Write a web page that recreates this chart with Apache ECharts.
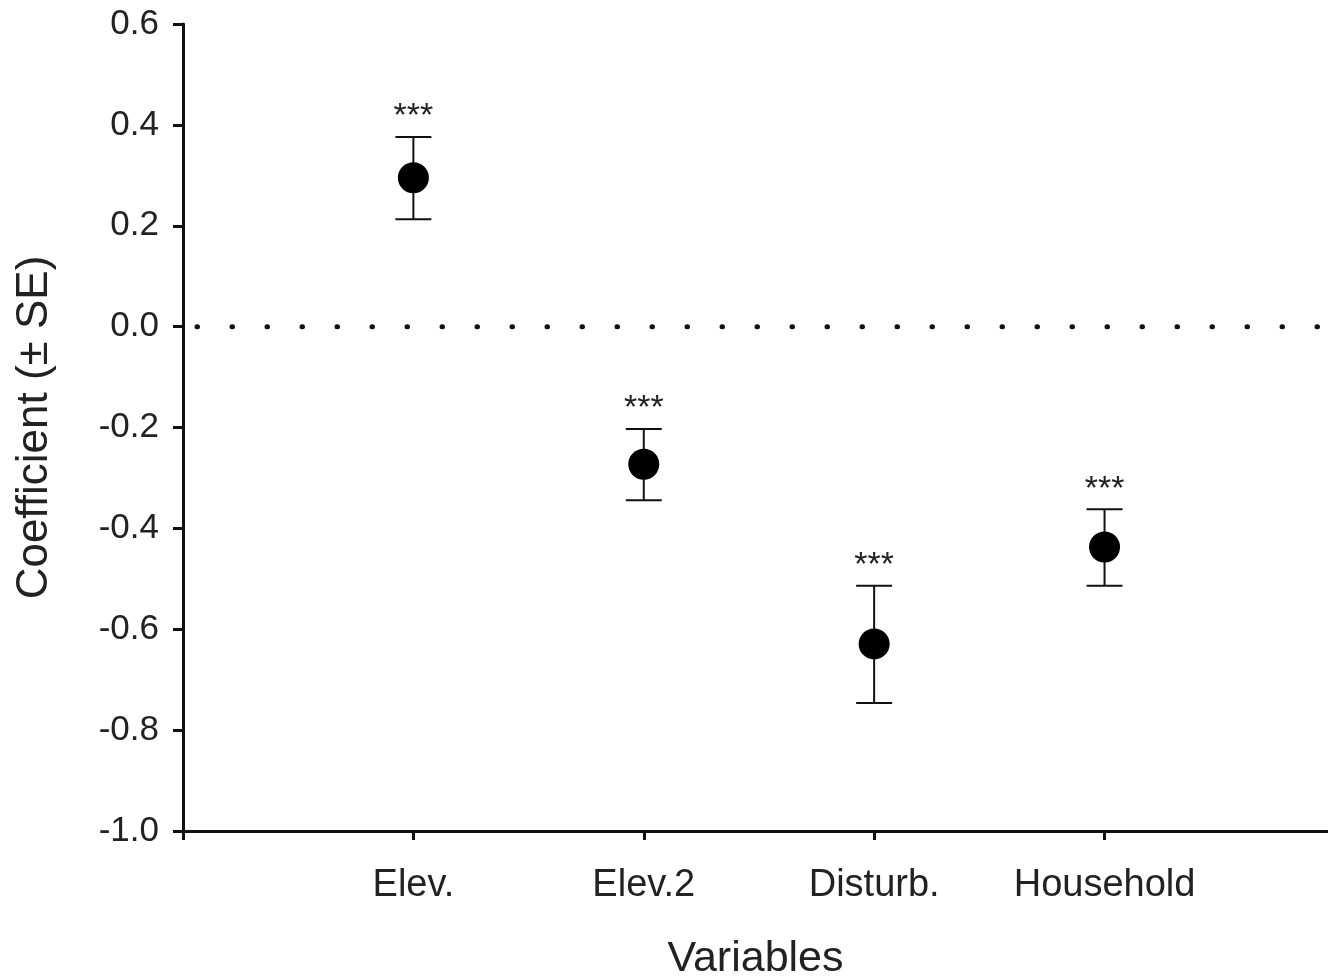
<!DOCTYPE html>
<html>
<head>
<meta charset="utf-8">
<script src="https://cdn.jsdelivr.net/npm/echarts@6/dist/echarts.min.js"></script>
<style>
html,body{margin:0;padding:0;background:#fff;}
#chart{width:1328px;height:979px;}
</style>
</head>
<body>
<div id="chart"></div>
<script>
const categories = ['Elev.', 'Elev.2', 'Disturb.', 'Household'];
const coef = [0.295, -0.273, -0.629, -0.437];
const upperSE = [0.376, -0.203, -0.514, -0.362];
const lowerSE = [0.213, -0.344, -0.746, -0.514];
const signif = ['***', '***', '***', '***'];
const yTicks = [-1.0, -0.8, -0.6, -0.4, -0.2, 0.0, 0.2, 0.4, 0.6];
const xTickPositions = [0, 1, 2, 3, 4];

const FONT = '"Liberation Sans", Arial, sans-serif';
const chart = echarts.init(document.getElementById('chart'));

const pointData = coef.map((v, i) => [i + 1, v]);
const errData = coef.map((v, i) => [i + 1, lowerSE[i], upperSE[i], signif[i]]);
const X_MAX = 4.97;

chart.setOption({
  animation: false,
  backgroundColor: '#fff',
  grid: { left: 183, top: 24, bottom: 148, right: 0, containLabel: false, outerBoundsMode: 'none' },
  xAxis: {
    type: 'value', min: 0, max: X_MAX,
    name: 'Variables', nameLocation: 'middle', nameGap: 107,
    nameTextStyle: { fontFamily: FONT, fontSize: 43, color: '#222' },
    axisLine: { show: true, onZero: false, lineStyle: { color: '#111', width: 3 } },
    axisTick: { show: true, length: 9, customValues: xTickPositions, lineStyle: { color: '#111', width: 3 } },
    axisLabel: {
      margin: 36, fontFamily: FONT, fontSize: 38, color: '#222',
      customValues: categories.map((c, i) => i + 1),
      formatter: v => categories[Math.round(v) - 1] || ''
    },
    splitLine: { show: false }
  },
  yAxis: {
    type: 'value', min: -1.0, max: 0.6, interval: 0.2,
    name: 'Coefficient (± SE)', nameLocation: 'middle', nameGap: 126,
    nameTextStyle: { fontFamily: FONT, fontSize: 44, color: '#222' },
    axisLine: { show: true, lineStyle: { color: '#111', width: 3 } },
    axisTick: { show: true, length: 10, lineStyle: { color: '#111', width: 3 } },
    axisLabel: {
      margin: 24, fontFamily: FONT, fontSize: 35, color: '#222',
      customValues: yTicks,
      formatter: v => v.toFixed(1)
    },
    splitLine: { show: false }
  },
  series: [
    {
      type: 'custom',
      data: errData,
      z: 3,
      renderItem: function (params, api) {
        const x = api.value(0);
        const lo = api.coord([x, api.value(1)]);
        const hi = api.coord([x, api.value(2)]);
        const cap = 18;
        const children = [
          { type: 'line', shape: { x1: lo[0], y1: lo[1], x2: hi[0], y2: hi[1] }, style: { stroke: '#111', lineWidth: 2 } },
          { type: 'line', shape: { x1: lo[0] - cap, y1: lo[1], x2: lo[0] + cap, y2: lo[1] }, style: { stroke: '#111', lineWidth: 2 } },
          { type: 'line', shape: { x1: hi[0] - cap, y1: hi[1], x2: hi[0] + cap, y2: hi[1] }, style: { stroke: '#111', lineWidth: 2 } },
          { type: 'text', style: { text: api.value(3), x: hi[0], y: hi[1] - 20, align: 'center', verticalAlign: 'middle', fontFamily: FONT, fontSize: 34, fill: '#222' } }
        ];
        if (params.dataIndex === 0) {
          const z0 = api.coord([0, 0]);
          const z1 = api.coord([X_MAX, 0]);
          children.push({ type: 'line', shape: { x1: z0[0] + 14, y1: z0[1], x2: z1[0] - 8, y2: z1[1] },
            style: { stroke: '#111', lineWidth: 5, lineDash: [0.5, 34.5], lineCap: 'round' } });
        }
        return { type: 'group', children: children };
      }
    },
    {
      type: 'scatter',
      data: pointData,
      symbol: 'circle',
      symbolSize: 31,
      itemStyle: { color: '#000', opacity: 1 },
      z: 4
    }
  ]
});
</script>
</body>
</html>
